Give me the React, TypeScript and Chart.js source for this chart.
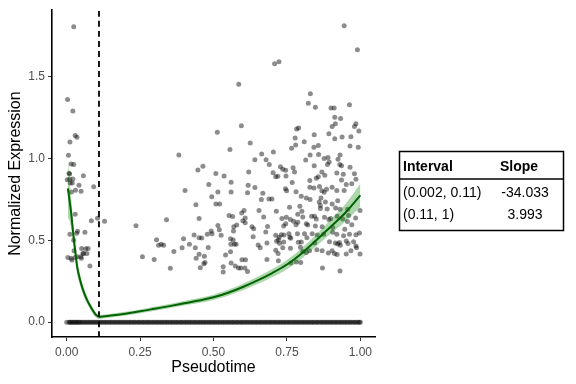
import { useEffect, useRef } from "react";
import { Chart, registerables } from "chart.js";

Chart.register(...registerables);

// ---- axes / annotation values ----
const xTicks = [0, 0.25, 0.5, 0.75, 1];
const yTicks = [0, 0.5, 1, 1.5];
const xRange = [-0.05, 1.05];
const yRange = [-0.0907, 1.906];
const breakpoint = 0.11;

// ---- table ----
const tableHeader = ["Interval", "Slope"];
const tableIntervals = ["(0.002, 0.11)", "(0.11, 1)"];
const tableSlopes = ["-34.033", "3.993"];

// ---- cells with zero expression (pseudotime) ----
const zeroCells = [
  0.0, 0.008, 0.011, 0.015, 0.019, 0.023, 0.027, 0.031, 0.035, 0.039, 0.043, 0.047, 0.052, 0.057,
  0.062, 0.067, 0.072, 0.077, 0.082, 0.087, 0.092, 0.097, 0.102, 0.107, 0.112, 0.117, 0.122, 0.128,
  0.133, 0.138, 0.144, 0.149, 0.154, 0.16, 0.165, 0.17, 0.176, 0.181, 0.186, 0.192, 0.197, 0.202,
  0.208, 0.213, 0.218, 0.224, 0.229, 0.234, 0.24, 0.245, 0.25, 0.256, 0.261, 0.266, 0.272, 0.277,
  0.282, 0.288, 0.293, 0.298, 0.304, 0.309, 0.314, 0.32, 0.325, 0.33, 0.336, 0.341, 0.346, 0.352,
  0.357, 0.362, 0.368, 0.373, 0.378, 0.384, 0.389, 0.394, 0.4, 0.405, 0.41, 0.416, 0.421, 0.426,
  0.432, 0.437, 0.442, 0.448, 0.453, 0.458, 0.464, 0.469, 0.474, 0.48, 0.485, 0.49, 0.496, 0.501,
  0.506, 0.512, 0.517, 0.522, 0.528, 0.533, 0.538, 0.544, 0.549, 0.554, 0.56, 0.565, 0.57, 0.576,
  0.581, 0.586, 0.592, 0.597, 0.602, 0.608, 0.613, 0.618, 0.624, 0.629, 0.634, 0.64, 0.645, 0.65,
  0.656, 0.661, 0.666, 0.672, 0.677, 0.682, 0.688, 0.693, 0.698, 0.704, 0.709, 0.714, 0.72, 0.725,
  0.73, 0.736, 0.741, 0.746, 0.752, 0.757, 0.762, 0.768, 0.773, 0.778, 0.784, 0.789, 0.794, 0.8,
  0.805, 0.81, 0.816, 0.821, 0.826, 0.832, 0.837, 0.842, 0.848, 0.853, 0.858, 0.864, 0.869, 0.874,
  0.88, 0.885, 0.89, 0.896, 0.901, 0.906, 0.912, 0.917, 0.922, 0.928, 0.933, 0.938, 0.944, 0.949,
  0.954, 0.96, 0.965, 0.97, 0.976, 0.981, 0.986, 0.992, 0.997, 1.0,
];

// ---- cells with non-zero expression: [pseudotime, normalized expression] ----
const expressedCells: [number, number][] = [
  [0.024, 1.805], [0.003, 1.36], [0.021, 1.29], [0.029, 1.14], [0.035, 1.13], [0.011, 1.1],
  [0.006, 1.02], [0.015, 0.966], [0.024, 0.964], [0.008, 0.91], [0.01, 0.905], [0.002, 0.87],
  [0.01, 0.873], [0.021, 0.875], [0.057, 0.895], [0.042, 0.837], [0.012, 0.85], [0.019, 0.85],
  [0.016, 0.795], [0.03, 0.806], [0.049, 0.8], [0.092, 0.827], [0.029, 0.66], [0.084, 0.62],
  [0.105, 0.635], [0.129, 0.617], [0.011, 0.537], [0.034, 0.543], [0.037, 0.555], [0.062, 0.55],
  [0.024, 0.5], [0.025, 0.436], [0.051, 0.45], [0.065, 0.448], [0.073, 0.45], [0.058, 0.42],
  [0.069, 0.42], [0.055, 0.42], [0.004, 0.395], [0.015, 0.39], [0.018, 0.38], [0.036, 0.4],
  [0.029, 0.395], [0.048, 0.4], [0.05, 0.39], [0.079, 0.343], [0.236, 0.589], [0.258, 0.4],
  [0.298, 0.383], [0.306, 0.504], [0.313, 0.47], [0.322, 0.476], [0.33, 0.47], [0.34, 0.625],
  [0.353, 0.33], [0.365, 0.431], [0.382, 1.022], [0.393, 0.455], [0.398, 0.51], [0.403, 0.805],
  [0.418, 0.476], [0.434, 0.532], [0.44, 0.718], [0.447, 0.93], [0.441, 0.39], [0.451, 0.415],
  [0.451, 0.633], [0.451, 0.516], [0.438, 0.455],
  [0.945, 1.811], [0.99, 1.664], [0.708, 1.579], [0.723, 1.591], [0.586, 1.454], [0.83, 1.396],
  [0.823, 1.337], [0.847, 1.313], [0.9, 1.309], [0.911, 1.309], [0.963, 1.329], [0.913, 1.252],
  [0.933, 1.244], [0.915, 1.212], [0.904, 1.196], [0.985, 1.212], [0.98, 1.196], [0.995, 1.168],
  [0.595, 1.2], [0.513, 1.16], [0.783, 1.18], [0.79, 1.186], [0.778, 1.125], [0.843, 1.145],
  [0.893, 1.151], [0.913, 1.121], [0.938, 1.131], [0.968, 1.133], [0.625, 1.095], [0.556, 1.055],
  [0.78, 1.083], [0.766, 1.063], [0.809, 1.103], [0.842, 1.069], [0.857, 1.079], [0.965, 1.077],
  [0.993, 1.069], [0.464, 0.952], [0.664, 1.028], [0.704, 1.039], [0.641, 0.992], [0.679, 0.992],
  [0.69, 0.964], [0.829, 1.021], [0.858, 1.024], [0.814, 0.99], [0.877, 1.0], [0.89, 1.006],
  [0.924, 0.996], [0.931, 1.021], [0.888, 0.964], [0.894, 0.978], [0.93, 0.964], [0.936, 0.956],
  [0.965, 0.946], [0.843, 0.956], [0.728, 0.95], [0.736, 0.934], [0.746, 0.928], [0.771, 0.944],
  [0.62, 0.918], [0.508, 0.909], [0.536, 0.893], [0.703, 0.913], [0.712, 0.889], [0.719, 0.891],
  [0.747, 0.893], [0.776, 0.918], [0.85, 0.879], [0.857, 0.889], [0.869, 0.918], [0.879, 0.897],
  [0.828, 0.865], [0.92, 0.912], [0.942, 0.903], [0.98, 0.907], [0.936, 0.869], [0.985, 0.873],
  [0.484, 0.841], [0.56, 0.855], [0.618, 0.837], [0.641, 0.823], [0.515, 0.795], [0.56, 0.795],
  [0.616, 0.791], [0.494, 0.766], [0.668, 0.787], [0.745, 0.815], [0.749, 0.803], [0.768, 0.853],
  [0.781, 0.797], [0.799, 0.77], [0.828, 0.825], [0.842, 0.819], [0.861, 0.829], [0.869, 0.803],
  [0.877, 0.793], [0.885, 0.812], [0.904, 0.825], [0.92, 0.805], [0.945, 0.805], [0.952, 0.841],
  [0.971, 0.845], [0.663, 0.75], [0.689, 0.752], [0.699, 0.752], [0.816, 0.758], [0.829, 0.75],
  [0.866, 0.758],
  [0.508, 0.722], [0.521, 0.722], [0.553, 0.652], [0.565, 0.645], [0.604, 0.682], [0.596, 0.667],
  [0.608, 0.637], [0.6, 0.619], [0.608, 0.607], [0.579, 0.593], [0.569, 0.583], [0.515, 0.591],
  [0.52, 0.564], [0.492, 0.557], [0.479, 0.537], [0.495, 0.54], [0.46, 0.514], [0.526, 0.531],
  [0.568, 0.557], [0.558, 0.51], [0.567, 0.502], [0.559, 0.476], [0.571, 0.476], [0.577, 0.476],
  [0.482, 0.456], [0.469, 0.403], [0.471, 0.365], [0.467, 0.357], [0.455, 0.333], [0.541, 0.411],
  [0.558, 0.43], [0.533, 0.339], [0.533, 0.307], [0.56, 0.361], [0.574, 0.343], [0.585, 0.331],
  [0.593, 0.331], [0.607, 0.331], [0.616, 0.31], [0.597, 0.381], [0.609, 0.381],
  [0.904, 0.722], [0.864, 0.712], [0.86, 0.734], [0.881, 0.734], [0.923, 0.742], [0.655, 0.682],
  [0.671, 0.643], [0.714, 0.678], [0.759, 0.702], [0.794, 0.708], [0.801, 0.678], [0.787, 0.659],
  [0.804, 0.643], [0.762, 0.627], [0.748, 0.641], [0.733, 0.633], [0.834, 0.647], [0.85, 0.631],
  [0.844, 0.647], [0.887, 0.691], [0.916, 0.697], [0.931, 0.69], [0.957, 0.69], [0.96, 0.652],
  [0.921, 0.647], [0.899, 0.633], [0.878, 0.641], [0.864, 0.694], [0.94, 0.631], [0.956, 0.615],
  [0.984, 0.637], [0.999, 0.682],
  [0.631, 0.583], [0.637, 0.571], [0.684, 0.585], [0.678, 0.551], [0.739, 0.587], [0.746, 0.601],
  [0.773, 0.617], [0.787, 0.611], [0.781, 0.595], [0.816, 0.601], [0.821, 0.593], [0.847, 0.587],
  [0.87, 0.583], [0.893, 0.627], [0.906, 0.579], [0.947, 0.567], [0.971, 0.595],
  [0.635, 0.522], [0.712, 0.531], [0.724, 0.518], [0.731, 0.534], [0.74, 0.532], [0.757, 0.54],
  [0.76, 0.518], [0.786, 0.54], [0.81, 0.54], [0.836, 0.54], [0.853, 0.532], [0.875, 0.537],
  [0.906, 0.549], [0.92, 0.537], [0.943, 0.528], [0.963, 0.537], [0.985, 0.534], [0.997, 0.544],
  [0.652, 0.472], [0.659, 0.454], [0.682, 0.484], [0.715, 0.494], [0.725, 0.482], [0.721, 0.504],
  [0.739, 0.49], [0.763, 0.512], [0.789, 0.488], [0.799, 0.49], [0.818, 0.516], [0.845, 0.484],
  [0.895, 0.492], [0.915, 0.484], [0.923, 0.478], [0.929, 0.486], [0.932, 0.47], [0.952, 0.496],
  [0.958, 0.48], [0.977, 0.492], [0.985, 0.466], [0.987, 0.454], [0.968, 0.436],
  [0.712, 0.44], [0.72, 0.419], [0.736, 0.454], [0.762, 0.452], [0.796, 0.458], [0.804, 0.431],
  [0.816, 0.425], [0.827, 0.436], [0.852, 0.443], [0.87, 0.436], [0.891, 0.422], [0.904, 0.436],
  [0.912, 0.419], [0.921, 0.413], [0.952, 0.416], [0.999, 0.417],
  [0.682, 0.383], [0.721, 0.375], [0.764, 0.361], [0.782, 0.367], [0.797, 0.365], [0.871, 0.331],
  [0.931, 0.313],
];

// ---- fitted curve, segment 1 (0.002 - 0.11) ----
const leftFitX = [0.004, 0.01, 0.016, 0.02, 0.025, 0.03, 0.036, 0.045, 0.053, 0.065, 0.076, 0.088, 0.098, 0.11];
const leftFitY = [0.818, 0.74, 0.657, 0.58, 0.496, 0.42, 0.335, 0.262, 0.212, 0.153, 0.112, 0.074, 0.048, 0.032];
const leftFitSe = [0.18, 0.12, 0.09, 0.07, 0.06, 0.05, 0.045, 0.035, 0.03, 0.025, 0.02, 0.018, 0.016, 0.015];

// ---- fitted curve, segment 2 (0.11 - 1) ----
const rightFitX = [0.11, 0.15, 0.2, 0.25, 0.3, 0.35, 0.4, 0.45, 0.5, 0.55, 0.6, 0.65, 0.7, 0.75, 0.8, 0.85, 0.9, 0.95, 1.0];
const rightFitY = [0.032, 0.04, 0.052, 0.066, 0.082, 0.098, 0.115, 0.132, 0.152, 0.18, 0.215, 0.255, 0.3, 0.352, 0.42, 0.5, 0.585, 0.67, 0.775];
const rightFitSe = [0.012, 0.012, 0.012, 0.012, 0.013, 0.013, 0.014, 0.015, 0.016, 0.018, 0.02, 0.022, 0.025, 0.028, 0.032, 0.036, 0.043, 0.053, 0.07];

const FONT = '"Liberation Sans", Arial, Helvetica, sans-serif';
const POINT_COLOR = "rgba(0,0,0,0.45)";
const LINE_GREEN = "#006400";
const BAND_GREEN = "rgba(0,128,0,0.32)";

const overlayPlugin = {
  id: "overlay",
  afterDraw(chart: any) {
    const ctx = chart.ctx as CanvasRenderingContext2D;
    const { left, right, top, bottom } = chart.chartArea;
    ctx.save();
    ctx.fillStyle = "#000";
    ctx.font = `16px ${FONT}`;
    ctx.textAlign = "center";
    ctx.textBaseline = "middle";
    ctx.fillText("Pseudotime", (left + right) / 2, 368);
    ctx.save();
    ctx.translate(16, (top + bottom) / 2);
    ctx.rotate(-Math.PI / 2);
    ctx.fillText("Normalized Expression", 0, 0);
    ctx.restore();

    // table
    const bx = 399.5, by = 151.5, bw = 164, bh = 79;
    ctx.strokeStyle = "#000";
    ctx.lineWidth = 1.5;
    ctx.strokeRect(bx, by, bw, bh);
    ctx.beginPath();
    ctx.moveTo(bx, 179);
    ctx.lineTo(bx + bw, 179);
    ctx.stroke();
    ctx.textBaseline = "middle";
    ctx.textAlign = "left";
    ctx.font = `bold 14px ${FONT}`;
    ctx.fillText(tableHeader[0], 403, 167);
    ctx.fillText(tableHeader[1], 500, 167);
    ctx.font = `14px ${FONT}`;
    const rowY = [193, 215];
    tableIntervals.forEach((t, i) => {
      ctx.textAlign = "left";
      ctx.fillText(t, 403, rowY[i]);
      ctx.textAlign = "center";
      ctx.fillText(tableSlopes[i], 525, rowY[i]);
    });
    ctx.restore();
  },
};

export default function App() {
  const canvasRef = useRef<HTMLCanvasElement | null>(null);

  useEffect(() => {
    document.body.style.margin = "0";
    const canvas = canvasRef.current;
    if (!canvas) return;

    const leftLine = leftFitX.map((x, i) => ({ x, y: leftFitY[i] }));
    const leftUpper = leftFitX.map((x, i) => ({ x, y: leftFitY[i] + leftFitSe[i] }));
    const leftLower = leftFitX.map((x, i) => ({ x, y: leftFitY[i] - leftFitSe[i] }));
    const rightLine = rightFitX.map((x, i) => ({ x, y: rightFitY[i] }));
    const rightUpper = rightFitX.map((x, i) => ({ x, y: rightFitY[i] + rightFitSe[i] }));
    const rightLower = rightFitX.map((x, i) => ({ x, y: rightFitY[i] - rightFitSe[i] }));

    const lineBase = {
      type: "line" as const,
      pointRadius: 0,
      cubicInterpolationMode: "monotone" as const,
    };

    const chart = new Chart(canvas, {
      type: "scatter",
      data: {
        datasets: [
          {
            ...lineBase,
            data: [
              { x: breakpoint, y: yRange[0] },
              { x: breakpoint, y: yRange[1] },
            ],
            borderColor: "#000",
            borderWidth: 1.8,
            borderDash: [6, 4],
            fill: false,
          } as any,
          { ...lineBase, data: leftLine, borderColor: LINE_GREEN, borderWidth: 2, fill: false } as any,
          { ...lineBase, data: rightLine, borderColor: LINE_GREEN, borderWidth: 2, fill: false } as any,
          { ...lineBase, data: leftUpper, borderWidth: 0, borderColor: "rgba(0,0,0,0)", backgroundColor: BAND_GREEN, fill: "+1" } as any,
          { ...lineBase, data: leftLower, borderWidth: 0, borderColor: "rgba(0,0,0,0)", fill: false } as any,
          { ...lineBase, data: rightUpper, borderWidth: 0, borderColor: "rgba(0,0,0,0)", backgroundColor: BAND_GREEN, fill: "+1" } as any,
          { ...lineBase, data: rightLower, borderWidth: 0, borderColor: "rgba(0,0,0,0)", fill: false } as any,
          {
            data: expressedCells.map(([x, y]) => ({ x, y })),
            pointRadius: 2.5,
            pointBorderWidth: 0,
            pointBackgroundColor: POINT_COLOR,
            showLine: false,
          } as any,
          {
            data: zeroCells.map((x) => ({ x, y: 0 })),
            pointRadius: 2.5,
            pointBorderWidth: 0,
            pointBackgroundColor: POINT_COLOR,
            showLine: false,
          } as any,
        ],
      },
      options: {
        responsive: false,
        animation: false,
        devicePixelRatio: 1,
        layout: { padding: { left: 0, top: 8, right: 201, bottom: 0 } },
        plugins: {
          legend: { display: false },
          tooltip: { enabled: false },
        },
        scales: {
          x: {
            type: "linear",
            min: xRange[0],
            max: xRange[1],
            afterFit: (s: any) => {
              s.height = 47;
            },
            afterBuildTicks: (s: any) => {
              s.ticks = xTicks.map((v) => ({ value: v }));
            },
            ticks: {
              color: "#4d4d4d",
              font: { family: FONT, size: 12 },
              padding: 4,
              maxRotation: 0,
              autoSkip: false,
              callback: (v: any) => Number(v).toFixed(2),
            },
            grid: {
              display: true,
              drawOnChartArea: false,
              drawTicks: true,
              tickLength: 4,
              color: "#333",
              lineWidth: 1,
            },
            border: { display: true, color: "#000", width: 1.6 },
          },
          y: {
            type: "linear",
            min: yRange[0],
            max: yRange[1],
            afterFit: (s: any) => {
              s.width = 52;
            },
            afterBuildTicks: (s: any) => {
              s.ticks = yTicks.map((v) => ({ value: v }));
            },
            ticks: {
              color: "#4d4d4d",
              font: { family: FONT, size: 12 },
              padding: 3,
              autoSkip: false,
              callback: (v: any) => Number(v).toFixed(1),
            },
            grid: {
              display: true,
              drawOnChartArea: false,
              drawTicks: true,
              tickLength: 4,
              color: "#333",
              lineWidth: 1,
            },
            border: { display: true, color: "#000", width: 1.6 },
          },
        },
      },
      plugins: [overlayPlugin],
    });

    return () => chart.destroy();
  }, []);

  return (
    <div style={{ width: 576, height: 384, background: "#fff" }}>
      <canvas ref={canvasRef} width={576} height={384} style={{ display: "block" }} />
    </div>
  );
}
